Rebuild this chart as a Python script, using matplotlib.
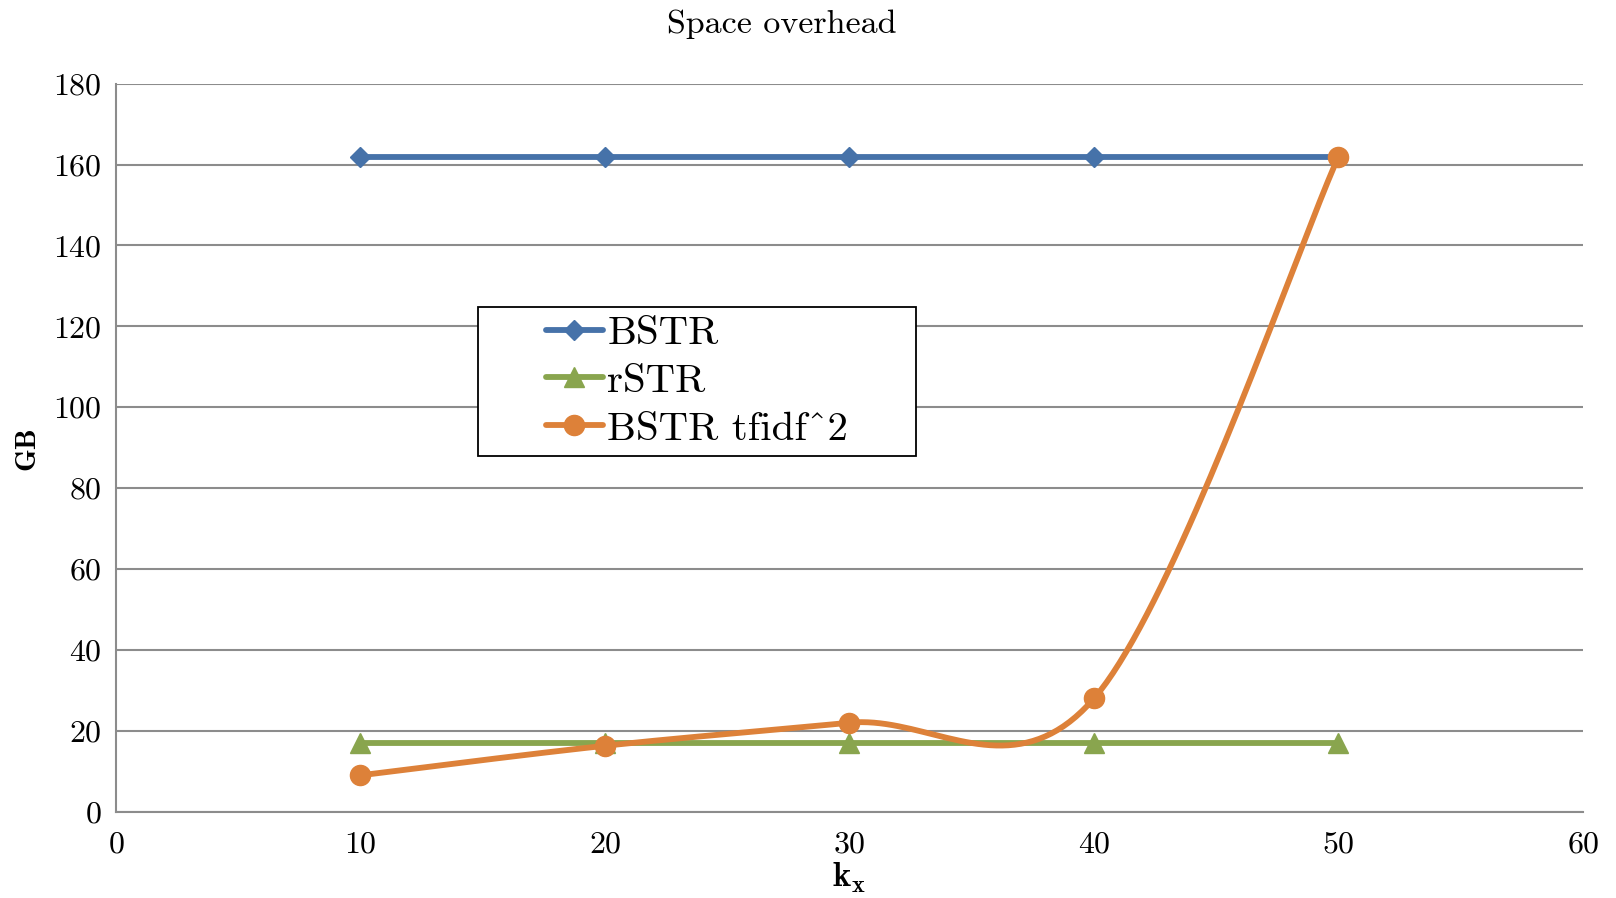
import numpy as np
import matplotlib
matplotlib.use("Agg")
import matplotlib.pyplot as plt
from matplotlib.patches import Rectangle

plt.rcParams["font.family"] = ["cmr10", "DejaVu Serif"]
plt.rcParams["mathtext.fontset"] = "cm"
plt.rcParams["axes.formatter.use_mathtext"] = True

# Data
k_values = [10, 20, 30, 40, 50]
bstr = [162, 162, 162, 162, 162]
rstr = [17, 17, 17, 17, 17]
bstr_tfidf2 = [9, 16.3, 22, 28, 162]

series_names = ["BSTR", "rSTR", "BSTR tfidf^2"]
x_ticks = [0, 10, 20, 30, 40, 50, 60]
y_ticks = [0, 20, 40, 60, 80, 100, 120, 140, 160, 180]

BLUE = "#4672A9"
GREEN = "#89A54E"
ORANGE = "#DD8139"
GRID = "#8C8C8C"


def smooth_curve(xs, ys, steps=40):
    """Cubic Bezier smoothing through every point (Catmull-Rom style tangents)."""
    pts = np.column_stack([xs, ys]).astype(float)
    n = len(pts)
    out = [pts[0]]
    t = np.linspace(0, 1, steps + 1)[1:][:, None]
    for i in range(n - 1):
        p0 = pts[i - 1] if i > 0 else pts[i]
        p3 = pts[i + 2] if i + 2 < n else pts[i + 1]
        a, d = pts[i], pts[i + 1]
        b = a + (d - p0) / 6.0
        c = d - (p3 - a) / 6.0
        seg = ((1 - t) ** 3) * a + 3 * ((1 - t) ** 2) * t * b + 3 * (1 - t) * t ** 2 * c + t ** 3 * d
        out.extend(seg)
    out = np.array(out)
    knots = list(range(0, steps * (n - 1) + 1, steps))
    return out[:, 0], out[:, 1], knots


W, H = 1616, 898
fig = plt.figure(figsize=(W / 100, H / 100), dpi=100)
ax = fig.add_axes([116 / W, 1 - 811.7 / H, (1583 - 116) / W, (811.7 - 83.7) / H])

lw = 4.2
ax.plot(k_values, bstr, color=BLUE, lw=lw, marker="D", ms=10,
        mec=BLUE, mfc=BLUE, label=series_names[0], solid_capstyle="round", zorder=3)
ax.plot(k_values, rstr, color=GREEN, lw=lw, marker="^", ms=14,
        mec=GREEN, mfc=GREEN, label=series_names[1], solid_capstyle="round", zorder=4)
sx, sy, knots = smooth_curve(k_values, bstr_tfidf2)
ax.plot(sx, sy, color=ORANGE, lw=lw, marker="o", ms=14.5, markevery=knots,
        mec=ORANGE, mfc=ORANGE, label=series_names[2], solid_capstyle="round", zorder=5)

ax.set_xlim(0, 60)
ax.set_ylim(0, 180)
ax.set_xticks(x_ticks)
ax.set_yticks(y_ticks)
ax.tick_params(length=0, labelsize=23)
ax.tick_params(axis="y", pad=10)
ax.tick_params(axis="x", pad=14)
ax.yaxis.grid(True, color=GRID, lw=1.5)
ax.set_axisbelow(True)
for side in ("top", "right"):
    ax.spines[side].set_visible(False)
for side in ("left", "bottom"):
    ax.spines[side].set_color(GRID)
    ax.spines[side].set_linewidth(1.5)

fig.text(27 / W, 1 - 448 / H, "GB", family="cmb10", fontsize=21,
         rotation=90, ha="center", va="center")
fig.text(849.5 / W, 1 - 878 / H, r"$\mathbf{k_x}$", fontsize=25, ha="center", va="center")
fig.text(782 / W, 1 - 33 / H, "Space overhead", ha="center", va="baseline", fontsize=24.5)

leg = ax.legend(loc="center", bbox_to_anchor=(697 / W, 1 - 381.5 / H),
                bbox_transform=fig.transFigure, frameon=False, fontsize=29.5,
                handlelength=1.4, handletextpad=0.1, labelspacing=0.27, borderpad=0.1)
leg.set_zorder(8)

fig.canvas.draw()
bb = leg.get_window_extent()
padx, pady = 64, 4
rect = Rectangle((bb.x0 - padx, bb.y0 - pady), bb.width + 2 * padx, bb.height + 2 * pady,
                 transform=None, facecolor="white", edgecolor="black", lw=1.3,
                 zorder=7, clip_on=False)
ax.add_patch(rect)

fig.savefig("out.png", dpi=100)
